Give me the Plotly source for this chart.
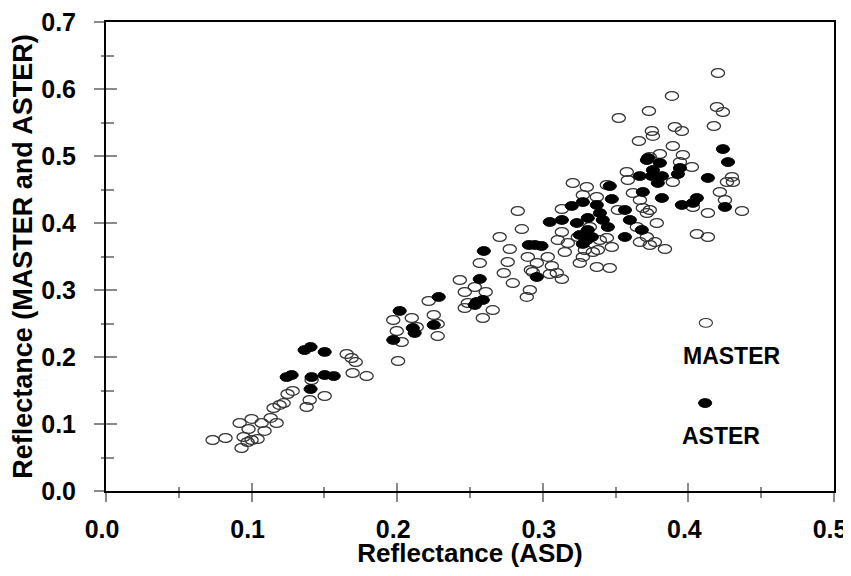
import plotly.graph_objects as go

# ---------------- data ----------------
master_x = [0.0732, 0.0821, 0.0918, 0.1000, 0.1069, 0.0979, 0.0945, 0.0931, 0.1000, 0.1041,
            0.1089, 0.1131, 0.1172, 0.1151, 0.1192, 0.1220, 0.1247, 0.1282, 0.1378, 0.1399,
            0.1412, 0.1502, 0.1653, 0.1687, 0.1715, 0.1694, 0.1790, 0.0973,
            0.2006, 0.1973, 0.2100, 0.1997, 0.2031, 0.2134, 0.2216, 0.2251, 0.2278, 0.2278,
            0.2430, 0.2464, 0.2485, 0.2464, 0.2567, 0.2533, 0.2608, 0.2656, 0.2588, 0.2773,
            0.2759, 0.2732, 0.2794, 0.2704, 0.2897, 0.2890, 0.2828, 0.2856, 0.2911, 0.2959,
            0.2931, 0.3034, 0.3062, 0.3048, 0.3131,
            0.3151, 0.3103, 0.3131, 0.3172, 0.3254, 0.3275, 0.3289, 0.3371, 0.3460, 0.3378,
            0.3440, 0.3474, 0.3131, 0.3206, 0.3302, 0.3371, 0.3275, 0.3440, 0.3577, 0.3619,
            0.3584, 0.3667, 0.3687, 0.3735, 0.3783, 0.3646, 0.3667, 0.3735, 0.3770, 0.3715,
            0.3323, 0.3241, 0.3392, 0.3516, 0.3344, 0.3096, 0.2918, 0.3715, 0.3839, 0.4058,
            0.4134, 0.4134, 0.4368, 0.4251, 0.4031, 0.4299, 0.4306, 0.4265, 0.4216, 0.3893,
            0.4024, 0.3962, 0.3893, 0.3804, 0.3735, 0.3942, 0.3660, 0.3749, 0.3756, 0.3907,
            0.3955, 0.4175, 0.4196, 0.4237, 0.4203, 0.3887, 0.3729, 0.3522]
master_y = [0.0761, 0.0791, 0.1015, 0.1075, 0.1015, 0.0925, 0.0806, 0.0642, 0.0761, 0.0776,
            0.0896, 0.1090, 0.1015, 0.1239, 0.1284, 0.1313, 0.1448, 0.1493, 0.1254, 0.1358,
            0.1657, 0.1418, 0.2045, 0.1985, 0.1925, 0.1761, 0.1716, 0.0731,
            0.1940, 0.2552, 0.2582, 0.2388, 0.2224, 0.2448, 0.2836, 0.2627, 0.2493, 0.2313,
            0.3149, 0.2970, 0.2806, 0.2731, 0.3403, 0.3045, 0.2970, 0.2701, 0.2582, 0.3612,
            0.3418, 0.3254, 0.3104, 0.3791, 0.3493, 0.2896, 0.4179, 0.3910, 0.3000, 0.3403,
            0.3269, 0.3493, 0.3358, 0.3239, 0.3164,
            0.3567, 0.3746, 0.3866, 0.3701, 0.3403, 0.3493, 0.3597, 0.3343, 0.3328, 0.3597,
            0.3776, 0.3642, 0.4209, 0.4597, 0.4537, 0.4388, 0.4418, 0.4567, 0.4761, 0.4448,
            0.4642, 0.4343, 0.4224, 0.4194, 0.4000, 0.3940, 0.3716, 0.3672, 0.3716, 0.3791,
            0.3940, 0.3791, 0.3746, 0.4194, 0.3567, 0.3254, 0.3299, 0.4149, 0.3612, 0.3836,
            0.3791, 0.4149, 0.4179, 0.4343, 0.4239, 0.4687, 0.4612, 0.4612, 0.4463, 0.4612,
            0.4836, 0.5015, 0.5149, 0.5030, 0.4985, 0.4910, 0.5224, 0.5373, 0.5299, 0.5433,
            0.5373, 0.5448, 0.5731, 0.5657, 0.6239, 0.5896, 0.5672, 0.5567]

aster_x = [0.1364, 0.1405, 0.1502, 0.1241, 0.1275, 0.1412, 0.1502, 0.1564, 0.1405,
           0.2017, 0.1973, 0.2107, 0.2120, 0.2251, 0.2285, 0.2595, 0.2567, 0.2546, 0.2588,
           0.2533, 0.2904, 0.2945, 0.2991, 0.2959,
           0.3048, 0.3131, 0.3199, 0.3275, 0.3371, 0.3309, 0.3412, 0.3447, 0.3254, 0.3302,
           0.3309, 0.3234, 0.3392, 0.3460, 0.3474, 0.3564, 0.3598, 0.3680, 0.3564, 0.3687,
           0.3666, 0.3749, 0.3818, 0.3756, 0.3715, 0.3722, 0.3804, 0.3942, 0.3928, 0.3790,
           0.3818, 0.4058, 0.4031, 0.3955, 0.4251, 0.4134, 0.4237, 0.4272,
           0.3337, 0.3275]
aster_y = [0.2104, 0.2149, 0.2075, 0.1701, 0.1731, 0.1701, 0.1731, 0.1716, 0.1522,
           0.2687, 0.2254, 0.2433, 0.2358, 0.2478, 0.2896, 0.3582, 0.3164, 0.2821, 0.2851,
           0.2776, 0.3672, 0.3672, 0.3657, 0.3194,
           0.4015, 0.4045, 0.4254, 0.4313, 0.4269, 0.4075, 0.4045, 0.3940, 0.3821, 0.3746,
           0.3896, 0.4000, 0.4149, 0.4552, 0.4358, 0.4194, 0.4045, 0.3896, 0.3791, 0.4463,
           0.4701, 0.4701, 0.4701, 0.4791, 0.4940, 0.4970, 0.4896, 0.4821, 0.4731, 0.4597,
           0.4373, 0.4373, 0.4299, 0.4269, 0.4239, 0.4672, 0.5104, 0.4910,
           0.3791, 0.3687]

x_tickvals = [0.0, 0.1, 0.2, 0.3, 0.4, 0.5]
x_ticktext = ["0.0", "0.1", "0.2", "0.3", "0.4", "0.5"]
y_tickvals = [0.0, 0.1, 0.2, 0.3, 0.4, 0.5, 0.6, 0.7]
y_ticktext = ["0.0", "0.1", "0.2", "0.3", "0.4", "0.5", "0.6", "0.7"]

# legend key positions (in-plot legend, symbol above label)
legend_names = ["MASTER", "ASTER"]
legend_sym_x = [0.412, 0.4115]
legend_sym_y = [0.251, 0.1313]
legend_txt_x = [0.3950, 0.3943]
legend_txt_y = [0.2015, 0.0821]

# ---------------- styling ----------------
FONT = "Liberation Sans, Arial, sans-serif"
EW, EH = 6.6, 4.4          # ellipse half-width / half-height in px
OPEN_LINE = "#333333"
TICK_COLOR = "#8a8a8a"

# the page body has an 8px default margin; keep the figure inside the window
PAGE_PAD = 8
WIN_W, WIN_H = 851, 576
FIG_W, FIG_H = WIN_W - PAGE_PAD, WIN_H - 2 * PAGE_PAD
M_L, M_T = 106 - PAGE_PAD, 22 - PAGE_PAD
PLOT_W, PLOT_H = 728, 469

fig = go.Figure()

# data-carrying traces (hover); the ellipse glyphs are drawn as pixel-sized shapes anchored at the data
fig.add_trace(go.Scatter(x=master_x, y=master_y, mode="markers", name="MASTER",
                         marker=dict(size=12, opacity=0), showlegend=False))
fig.add_trace(go.Scatter(x=aster_x, y=aster_y, mode="markers", name="ASTER",
                         marker=dict(size=12, opacity=0), showlegend=False))
# trace for the overlay axes (inner half of crossing ticks)
fig.add_trace(go.Scatter(x=[None], y=[None], xaxis="x2", yaxis="y2", showlegend=False,
                         hoverinfo="skip"))

shapes = []


def ellipse(x, y, filled, lw=1.3):
    return dict(type="circle", xref="x", yref="y", xsizemode="pixel", ysizemode="pixel",
                xanchor=x, yanchor=y, x0=-EW, x1=EW, y0=-EH, y1=EH,
                line=dict(color="black" if filled else OPEN_LINE, width=1 if filled else lw),
                fillcolor="black" if filled else "rgba(0,0,0,0)", layer="above")


for xv, yv in zip(master_x, master_y):
    shapes.append(ellipse(xv, yv, False))
for xv, yv in zip(aster_x, aster_y):
    shapes.append(ellipse(xv, yv, True))

# legend keys
shapes.append(ellipse(legend_sym_x[0], legend_sym_y[0], False, lw=1.1))
shapes.append(ellipse(legend_sym_x[1], legend_sym_y[1], True))

annotations = []
for name, tx, ty in zip(legend_names, legend_txt_x, legend_txt_y):
    annotations.append(dict(x=tx, y=ty, xref="x", yref="y", text=name, showarrow=False,
                            xanchor="left", yanchor="middle",
                            font=dict(family=FONT, size=23, color="black", weight="bold")))

tickfont = dict(family=FONT, size=25, color="black", weight="bold")

fig.update_layout(
    width=FIG_W, height=FIG_H,
    margin=dict(l=M_L, r=FIG_W - M_L - PLOT_W, t=M_T, b=FIG_H - M_T - PLOT_H, autoexpand=False),
    paper_bgcolor="white", plot_bgcolor="white",
    shapes=shapes, annotations=annotations,
    showlegend=False,
    xaxis=dict(range=[0, 0.5], tickvals=x_tickvals, ticktext=x_ticktext,
               showgrid=False, zeroline=False, automargin=False,
               showline=True, linecolor="black", linewidth=2, mirror=True,
               ticks="outside", ticklen=9, tickwidth=1.5, tickcolor=TICK_COLOR,
               minor=dict(dtick=0.05, ticks="outside", ticklen=5, tickwidth=1.5,
                          tickcolor=TICK_COLOR, showgrid=False),
               tickfont=tickfont, ticklabelstandoff=6, ticklabelshift=-4,
               ticklabeloverflow="allow",
               title=dict(text="Reflectance (ASD)", standoff=4,
                          font=dict(family=FONT, size=26, color="black", weight="bold"))),
    yaxis=dict(range=[0, 0.7], tickvals=y_tickvals, ticktext=y_ticktext,
               showgrid=False, zeroline=False, automargin=False,
               showline=True, linecolor="black", linewidth=2, mirror=True,
               ticks="outside", ticklen=10, tickwidth=1.5, tickcolor=TICK_COLOR,
               minor=dict(dtick=0.05, ticks="outside", ticklen=3, tickwidth=1.5,
                          tickcolor=TICK_COLOR, showgrid=False),
               tickfont=tickfont, ticklabelstandoff=13, ticklabeloverflow="allow",
               title=dict(text="Reflectance (MASTER and ASTER)", standoff=3,
                          font=dict(family=FONT, size=27, color="black", weight="bold"))),
    xaxis2=dict(overlaying="x", anchor="y", matches="x", range=[0, 0.5], automargin=False,
                tickvals=x_tickvals, showticklabels=False, showgrid=False, zeroline=False,
                showline=False, ticks="inside", ticklen=8, tickwidth=1.5, tickcolor=TICK_COLOR,
                minor=dict(dtick=0.05, ticks="inside", ticklen=4, tickwidth=1.5,
                           tickcolor=TICK_COLOR, showgrid=False), side="bottom"),
    yaxis2=dict(overlaying="y", anchor="x", matches="y", range=[0, 0.7], automargin=False,
                tickvals=y_tickvals, showticklabels=False, showgrid=False, zeroline=False,
                showline=False, ticks="inside", ticklen=11, tickwidth=1.5, tickcolor=TICK_COLOR,
                minor=dict(dtick=0.05, ticks="inside", ticklen=8, tickwidth=1.5,
                           tickcolor=TICK_COLOR, showgrid=False), side="left"),
)

fig.write_html("out.html")
